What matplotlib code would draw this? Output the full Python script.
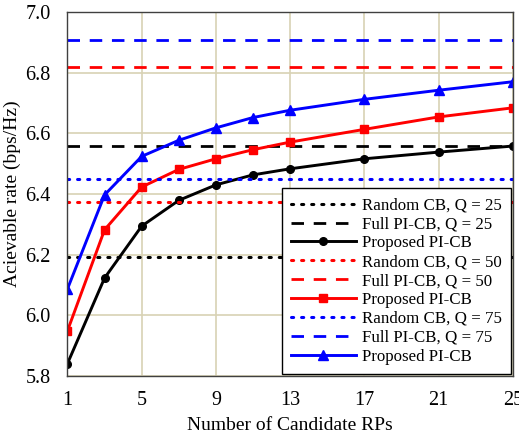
import matplotlib
matplotlib.use("Agg")
import matplotlib.pyplot as plt

plt.rcParams["font.family"] = ["Liberation Serif", "DejaVu Serif"]
plt.rcParams["mathtext.fontset"] = "stix"

# number of candidate RPs where the proposed scheme was evaluated
n_rps = [1, 3, 5, 7, 9, 11, 13, 17, 21, 25]

proposed_q25 = [5.841, 6.123, 6.294, 6.379, 6.430, 6.463, 6.483, 6.516, 6.538, 6.558]
proposed_q50 = [5.949, 6.282, 6.423, 6.481, 6.516, 6.546, 6.571, 6.613, 6.654, 6.684]
proposed_q75 = [6.087, 6.397, 6.524, 6.577, 6.618, 6.652, 6.676, 6.712, 6.742, 6.770]

# flat benchmarks (independent of number of RPs)
random_cb = {25: 6.191, 50: 6.373, 75: 6.450}
full_pi_cb = {25: 6.558, 50: 6.819, 75: 6.907}

colors = {25: "black", 50: "red", 75: "blue"}
markers = {25: "o", 50: "s", 75: "^"}
msizes = {25: 5.5, 50: 6, 75: 6.5}
proposed = {25: proposed_q25, 50: proposed_q50, 75: proposed_q75}

xticks = [1, 5, 9, 13, 17, 21, 25]
yticks = [5.8, 6.0, 6.2, 6.4, 6.6, 6.8, 7.0]

fig = plt.figure(figsize=(5.19, 4.37), dpi=100)
ax = fig.add_axes([0.130, 0.1396, 0.858, 0.833])

x_span = [n_rps[0], n_rps[-1]]
for q in (25, 50, 75):
    c = colors[q]
    ax.plot(x_span, [random_cb[q]] * 2, color=c, linestyle=(0, (0.7, 2.6)),
            linewidth=2.2, dash_capstyle="round",
            label=f"Random CB, Q = {q}")
    ax.plot(x_span, [full_pi_cb[q]] * 2, color=c, linestyle=(0, (4.5, 3.5)),
            linewidth=2.0, label=f"Full PI-CB, Q = {q}")
    ax.plot(n_rps, proposed[q], color=c, linewidth=2.1, marker=markers[q],
            markersize=msizes[q], label="Proposed PI-CB")

ax.set_xlim(1, 25)
ax.set_ylim(5.8, 7.0)
ax.set_xticks(xticks)
ax.set_yticks(yticks)
ax.set_yticklabels([f"{v:.1f}" for v in yticks])
ax.tick_params(length=0, labelsize=14.5)
ax.tick_params(axis="x", pad=11)
ax.tick_params(axis="y", pad=12)
ax.grid(True, color="#d8d2b4", linewidth=1.2)
ax.set_axisbelow(True)
for sp in ax.spines.values():
    sp.set_color("#404040")
    sp.set_linewidth(1.0)

ax.set_xlabel("Number of Candidate RPs", fontsize=14, labelpad=5)
ax.set_ylabel("Acievable rate (bps/Hz)", fontsize=14, labelpad=3)

leg = ax.legend(loc="lower right", fontsize=12.2, handlelength=3.8,
                handletextpad=0.35, labelspacing=0.17, borderpad=0.55,
                borderaxespad=0.12, fancybox=False, framealpha=1,
                edgecolor="black")
leg.get_frame().set_linewidth(1.0)

fig.savefig("out.png", dpi=100)
